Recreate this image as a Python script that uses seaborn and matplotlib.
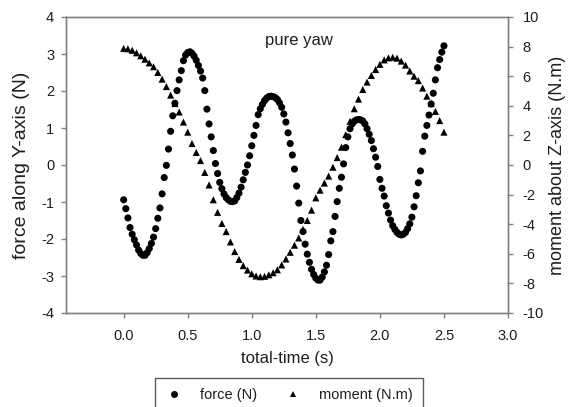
import numpy as np
import pandas as pd
import matplotlib
matplotlib.use("Agg")
import matplotlib.pyplot as plt
import seaborn as sns
from matplotlib.lines import Line2D

# ---- data ----
force_dt = 1 / 60
force_values = [
    -0.94, -1.18, -1.43, -1.69, -1.87, -2.02, -2.16, -2.30, -2.39, -2.44,
    -2.44, -2.37, -2.26, -2.12, -1.95, -1.72, -1.44, -1.16, -0.78, -0.34,
    -0.01, 0.43, 0.91, 1.33, 1.67, 2.01, 2.30, 2.55, 2.82, 2.97,
    3.04, 3.06, 3.02, 2.94, 2.83, 2.69, 2.54, 2.35, 2.01, 1.51,
    1.11, 0.76, 0.39, 0.04, -0.23, -0.47, -0.64, -0.78, -0.88, -0.94,
    -0.98, -0.99, -0.97, -0.88, -0.76, -0.60, -0.40, -0.20, 0.00, 0.25,
    0.52, 0.80, 1.07, 1.36, 1.52, 1.64, 1.74, 1.81, 1.85, 1.86,
    1.85, 1.82, 1.77, 1.68, 1.56, 1.38, 1.16, 0.87, 0.58, 0.27,
    -0.11, -0.57, -1.03, -1.50, -1.80, -2.14, -2.41, -2.63, -2.82, -2.96,
    -3.06, -3.11, -3.11, -3.03, -2.89, -2.71, -2.42, -2.05, -1.80, -1.39,
    -0.99, -0.63, -0.33, 0.03, 0.47, 0.76, 0.98, 1.11, 1.18, 1.22,
    1.23, 1.22, 1.19, 1.11, 0.98, 0.83, 0.66, 0.44, 0.21, -0.04,
    -0.39, -0.63, -0.84, -1.10, -1.30, -1.49, -1.64, -1.74, -1.82, -1.87,
    -1.89, -1.87, -1.82, -1.72, -1.59, -1.41, -1.13, -0.83, -0.48, -0.16,
    0.37, 0.78, 1.07, 1.35, 1.65, 1.94, 2.30, 2.63, 2.85, 3.05,
    3.22,
]
moment_dt = 1 / 30
moment_values = [
    7.88, 7.85, 7.75, 7.58, 7.38, 7.15, 6.90, 6.64, 6.25, 5.80,
    5.30, 4.72, 4.15, 3.58, 2.90, 2.22, 1.45, 0.85, 0.30, -0.50,
    -1.35, -2.35, -3.20, -3.95, -4.50, -5.20, -5.85, -6.38, -6.80, -7.10,
    -7.35, -7.50, -7.55, -7.52, -7.42, -7.28, -7.08, -6.75, -6.35, -5.90,
    -5.42, -4.93, -4.35, -3.75, -3.05, -2.22, -1.70, -1.22, -0.75, -0.15,
    0.50, 1.20, 2.05, 2.95, 3.80, 4.45, 5.10, 5.60, 6.05, 6.45,
    6.80, 7.10, 7.24, 7.28, 7.22, 7.02, 6.75, 6.35, 6.00, 5.70,
    5.20, 4.65, 4.15, 3.62, 3.00, 2.22,
]
x_ticks = [0.0, 0.5, 1.0, 1.5, 2.0, 2.5, 3.0]
left_ticks = [-4, -3, -2, -1, 0, 1, 2, 3, 4]
right_ticks = [-10, -8, -6, -4, -2, 0, 2, 4, 6, 8, 10]
title_text = "pure yaw"
x_label = "total-time (s)"
left_label = "force along Y-axis (N)"
right_label = "moment about Z-axis (N.m)"
series_names = ["force (N)", "moment (N.m)"]

force_time = np.arange(len(force_values)) * force_dt
moment_time = np.arange(len(moment_values)) * moment_dt
df_force = pd.DataFrame({"time": force_time, "value": force_values})
df_moment = pd.DataFrame({"time": moment_time, "value": moment_values})

# ---- styling ----
sns.set_style("ticks")
plt.rcParams["font.family"] = ["Liberation Sans", "DejaVu Sans"]
spine_col = "#808080"
text_col = "#1e1e1e"

W, H = 568, 407
fig = plt.figure(figsize=(W / 100, H / 100), dpi=100)
L, R, T, B = 66, 508, 17, 313
ax = fig.add_axes([L / W, 1 - B / H, (R - L) / W, (B - T) / H])
ax2 = ax.twinx()

sns.scatterplot(data=df_force, x="time", y="value", ax=ax, marker="o", s=26,
                color="black", edgecolor="none", linewidth=0, legend=False)
sns.scatterplot(data=df_moment, x="time", y="value", ax=ax2, marker="^", s=26,
                color="black", edgecolor="none", linewidth=0, legend=False)

ax.set_xlim(-0.45, 3.0)
ax.set_ylim(-4, 4)
ax2.set_ylim(-10, 10)
ax.set_xticks(x_ticks)
ax.set_xticklabels([f"{v:.1f}" for v in x_ticks])
ax.set_yticks(left_ticks)
ax.set_yticklabels([str(v) for v in left_ticks])
ax2.set_yticks(right_ticks)
ax2.set_yticklabels([str(v) for v in right_ticks])

for a in (ax, ax2):
    for sp in a.spines.values():
        sp.set_visible(True)
        sp.set_color(spine_col)
        sp.set_linewidth(1.0)
    a.tick_params(direction="out", length=3.5, width=1.0, color=spine_col,
                  labelsize=10.5, labelcolor=text_col, pad=5)
ax.tick_params(axis="x", pad=8)
ax2.tick_params(axis="y", pad=7)

ax.set_xlabel(x_label, fontsize=12, color=text_col, labelpad=6)
ax.set_ylabel(left_label, fontsize=14, color=text_col, labelpad=8)
ax2.set_ylabel(right_label, fontsize=13, color=text_col, labelpad=4)

ax.text(0.527, 0.922, title_text, transform=ax.transAxes, ha="center",
        va="center", fontsize=12, color=text_col)

handles = [
    Line2D([], [], linestyle="none", marker="o", markersize=5,
           color="black", markeredgewidth=0),
    Line2D([], [], linestyle="none", marker="^", markersize=5,
           color="black", markeredgewidth=0),
]
leg = fig.legend(handles, series_names, loc="upper center",
                 bbox_to_anchor=(289 / W, 1 - 378 / H), ncol=2,
                 frameon=True, fancybox=False, fontsize=10.5,
                 handletextpad=1.2, columnspacing=1.8, borderpad=0.7,
                 handlelength=1.2, borderaxespad=0)
leg.get_frame().set_edgecolor("#333333")
leg.get_frame().set_linewidth(1.0)
for t in leg.get_texts():
    t.set_color(text_col)

fig.savefig("out.png", dpi=100)
